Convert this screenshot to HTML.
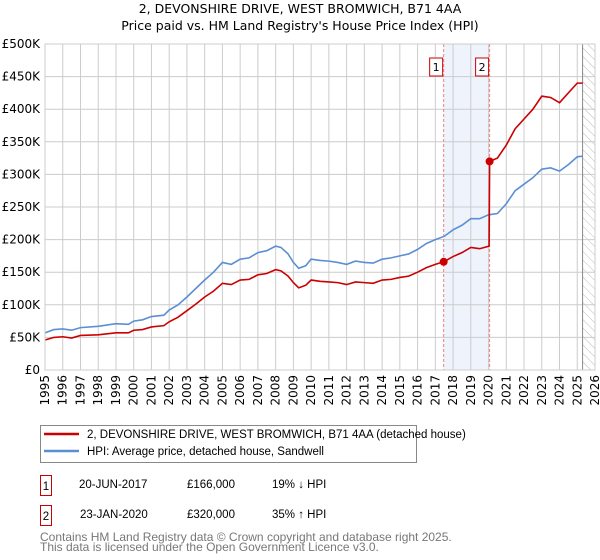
<!DOCTYPE html>
<html><head><meta charset="utf-8"><style>
body{margin:0;background:#fff;font-family:"Liberation Sans","DejaVu Sans",sans-serif;}
svg{display:block}
text{font-family:"DejaVu Sans","Liberation Sans",sans-serif;}
.lib{font-family:"Liberation Sans","DejaVu Sans",sans-serif;}
</style></head><body>
<svg id="c" width="600" height="560" xmlns="http://www.w3.org/2000/svg">
<defs><pattern id="hatch" width="6" height="6" patternUnits="userSpaceOnUse" patternTransform="rotate(-45)"><line x1="0" y1="0" x2="0" y2="6" stroke="#bbb" stroke-width="1"/></pattern></defs>
<text x="300" y="13" text-anchor="middle" font-size="12.5" fill="#000">2, DEVONSHIRE DRIVE, WEST BROMWICH, B71 4AA</text>
<text x="300" y="30" text-anchor="middle" font-size="12.5" fill="#000">Price paid vs. HM Land Registry's House Price Index (HPI)</text>
<g id="grid"></g><g id="marks"></g><g id="axes"></g>
<g>
<rect x="40.5" y="425.5" width="376" height="37" fill="#fff" stroke="#888"/>
<line x1="44" y1="434" x2="79" y2="434" stroke="#cc0000" stroke-width="2.5"/>
<text class="lib" x="87" y="438" font-size="11.5">2, DEVONSHIRE DRIVE, WEST BROMWICH, B71 4AA (detached house)</text>
<line x1="44" y1="451" x2="79" y2="451" stroke="#5b8fd4" stroke-width="2.5"/>
<text class="lib" x="87" y="455" font-size="11.5">HPI: Average price, detached house, Sandwell</text>
</g>
<g font-size="11.5">
<rect x="40.5" y="475.5" width="11" height="20" fill="#fff" stroke="#cc0000"/><text class="lib" x="46" y="490" text-anchor="middle">1</text>
<text class="lib" x="79" y="488">20-JUN-2017</text><text class="lib" x="187" y="488">£166,000</text><text class="lib" x="272" y="488">19% ↓ HPI</text>
<rect x="40.5" y="505.5" width="11" height="20" fill="#fff" stroke="#cc0000"/><text class="lib" x="46" y="520" text-anchor="middle">2</text>
<text class="lib" x="80" y="518">23-JAN-2020</text><text class="lib" x="187" y="518">£320,000</text><text class="lib" x="272" y="518">35% ↑ HPI</text>
</g>
<text class="lib" x="40" y="541" font-size="12" fill="#777">Contains HM Land Registry data © Crown copyright and database right 2025.</text>
<text class="lib" x="40" y="551" font-size="12" fill="#777">This data is licensed under the Open Government Licence v3.0.</text>
</svg>
<script>
const years=[1995,1995.5,1996,1996.5,1997,1998,1999,1999.7,2000,2000.5,2001,2001.7,2002,2002.5,2003,2003.5,2004,2004.5,2005,2005.5,2006,2006.5,2007,2007.5,2008,2008.3,2008.7,2009,2009.3,2009.7,2010,2010.5,2011,2011.5,2012,2012.5,2013,2013.5,2014,2014.5,2015,2015.5,2016,2016.5,2017,2017.5,2018,2018.5,2019,2019.5,2020,2020.5,2021,2021.5,2022,2022.5,2023,2023.5,2024,2024.5,2025,2025.3];
const hpiValues=[57,62,63,61,65,67,71,70,75,77,82,84,92,100,112,125,138,150,165,162,170,172,180,183,190,188,178,165,156,160,170,168,167,165,162,167,165,164,170,172,175,178,185,194,200,205,215,222,232,232,238,240,255,275,285,295,308,310,305,315,327,328];
const redYears=[1995,1995.5,1996,1996.5,1997,1998,1999,1999.7,2000,2000.5,2001,2001.7,2002,2002.5,2003,2003.5,2004,2004.5,2005,2005.5,2006,2006.5,2007,2007.5,2008,2008.3,2008.7,2009,2009.3,2009.7,2010,2010.5,2011,2011.5,2012,2012.5,2013,2013.5,2014,2014.5,2015,2015.5,2016,2016.5,2017,2017.47,2018,2018.5,2019,2019.5,2020.03,2020.06,2020.5,2021,2021.5,2022,2022.5,2023,2023.5,2024,2024.5,2025,2025.3];
const redValues=[46,50,51,49,53,54,57,57,61,62,66,68,74,81,91,101,112,121,133,131,138,139,146,148,154,152,144,134,126,130,138,136,135,134,131,135,134,133,138,139,142,144,150,157,162,166,174,180,188,186,190,320,325,345,370,385,400,420,418,410,425,440,440];
const saleYears=[2017.47,2020.06];
const saleValues=[166,320];
const saleLabels=["1","2"];
const yTicks=[0,50,100,150,200,250,300,350,400,450,500];
const yTickLabels=["£0","£50K","£100K","£150K","£200K","£250K","£300K","£350K","£400K","£450K","£500K"];
const xTicks=[1995,1996,1997,1998,1999,2000,2001,2002,2003,2004,2005,2006,2007,2008,2009,2010,2011,2012,2013,2014,2015,2016,2017,2018,2019,2020,2021,2022,2023,2024,2025,2026];

const NS="http://www.w3.org/2000/svg";
const L=45,R=595,T=44,B=370;
const x=v=>L+(v-1995)/(2026-1995)*(R-L);
const y=v=>B-v/500*(B-T);
function mk(tag,attrs,parent){const e=document.createElementNS(NS,tag);for(const k in attrs)e.setAttribute(k,attrs[k]);parent.appendChild(e);return e;}
const grid=document.getElementById('grid'),marks=document.getElementById('marks'),axes=document.getElementById('axes');
let sh=mk('rect',{x:x(saleYears[0]),y:T,width:x(saleYears[1])-x(saleYears[0]),height:B-T,fill:'#eef3fc'},grid);


let hz=mk('rect',{x:x(2025.3),y:T,width:R-x(2025.3),height:B-T,fill:'url(#hatch)'},grid);


yTicks.forEach((t,i)=>{
  mk('line',{x1:L,x2:R,y1:y(t),y2:y(t),stroke:'#ccc','stroke-width':1},grid);
  const tx=mk('text',{x:L-5,y:y(t)+4,'text-anchor':'end','font-size':12},axes);
  tx.textContent=yTickLabels[i];
  
  
});
xTicks.forEach(t=>{
  mk('line',{x1:x(t),x2:x(t),y1:T,y2:B,stroke:'#ccc','stroke-width':1},grid);
  const tx=mk('text',{x:0,y:0,'text-anchor':'end','font-size':12,transform:`translate(${x(t)+4},${B+5}) rotate(-90)`},axes);
  tx.textContent=t;
  
  
});
mk('line',{x1:x(2025.3),x2:x(2025.3),y1:T,y2:B,stroke:'#888','stroke-width':1},grid);
saleYears.forEach((s,i)=>{
  mk('line',{x1:x(s),x2:x(s),y1:T,y2:B,stroke:'#f08080','stroke-width':1,'stroke-dasharray':'3,2'},grid);
  const bx=mk('rect',{x:x(s)-14,y:58,width:13,height:18,fill:'#fff',stroke:'#cc0000'},marks);
  
  
  const t=mk('text',{x:x(s)-7.5,y:71,'text-anchor':'middle','font-size':11},marks);
  t.textContent=saleLabels[i];
  
  
});
const hp=mk('polyline',{points:years.map((v,i)=>x(v)+','+y(hpiValues[i])).join(' '),fill:'none',stroke:'#5b8fd4','stroke-width':1.6},marks);


const rp=mk('polyline',{points:redYears.map((v,i)=>x(v)+','+y(redValues[i])).join(' '),fill:'none',stroke:'#cc0000','stroke-width':1.6},marks);


saleYears.forEach((s,i)=>{
  const c=mk('circle',{cx:x(s),cy:y(saleValues[i]),r:4,fill:'#cc0000'},marks);
  
  
});
mk('rect',{x:L,y:T,width:R-L,height:B-T,fill:'none',stroke:'#ccc'},axes);
</script>
</body></html>
